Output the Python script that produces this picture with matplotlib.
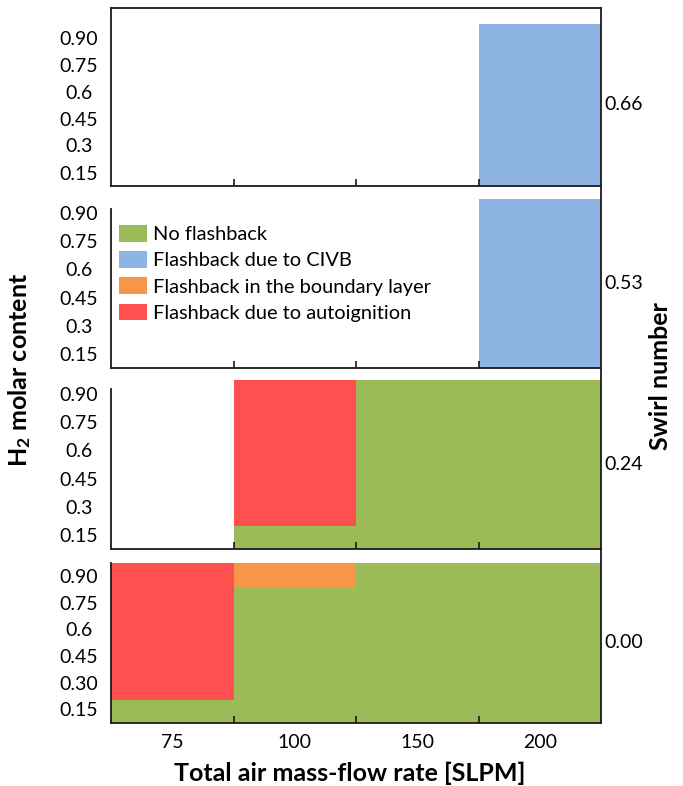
import matplotlib
matplotlib.use("Agg")
import matplotlib.pyplot as plt
from matplotlib.lines import Line2D
from matplotlib.patches import Patch

plt.rcParams['font.family'] = ['Lato', 'DejaVu Sans']
plt.rcParams['mathtext.fontset'] = 'custom'
plt.rcParams['mathtext.rm'] = 'Lato'
plt.rcParams['mathtext.bf'] = 'Lato:bold'

# categorias del eje x (caudal de aire, SLPM)
flujos = ["75", "100", "150", "200"]
# etiquetas del eje y (contenido molar de H2)
h2_ticks = [0.15, 0.30, 0.45, 0.60, 0.75, 0.90]
h2_labels = ["0.15", "0.3", "0.45", "0.6", "0.75", "0.90"]
h2_labels_abajo = ["0.15", "0.30", "0.45", "0.6", "0.75", "0.90"]
h2_base = 0.075   # borde inferior de las barras
swirl = ["0.66", "0.53", "0.24", "0.00"]

# alturas apiladas (desde h2_base) por numero de swirl
sin_fb = {"0.66": [0, 0, 0, 0], "0.53": [0, 0, 0, 0],
          "0.24": [0, 0.125, 0.9, 0.9], "0.00": [0.125, 0.76, 0.9, 0.9]}
civb = {"0.66": [0, 0, 0, 0.9], "0.53": [0, 0, 0, 0.9],
        "0.24": [0, 0, 0, 0], "0.00": [0, 0, 0, 0]}
capa_limite = {"0.66": [0, 0, 0, 0], "0.53": [0, 0, 0, 0],
               "0.24": [0, 0, 0, 0], "0.00": [0, 0.14, 0, 0]}
autoign = {"0.66": [0, 0, 0, 0], "0.53": [0, 0, 0, 0],
           "0.24": [0, 0.775, 0, 0], "0.00": [0.775, 0, 0, 0]}

colores = {"No flashback": "#9BBB59",
           "Flashback due to CIVB": "#8EB4E3",
           "Flashback in the boundary layer": "#F79646",
           "Flashback due to autoignition": "#FF5050"}

W, H = 683, 786
fig = plt.figure(figsize=(W / 100, H / 100), dpi=100)

def fy(py):
    return 1 - py / H

x0, x1 = 111, 601
# (borde superior del eje en px, borde inferior px, tope de barras px, tope espina izq px)
paneles = [(8, 186, 24, 8), (199, 368, 199, 209), (380, 549, 380, 389), (563, 722.5, 563, 563)]

TS = 14  # tamaño de los numeros

ejes = []
for i, s in enumerate(swirl):
    top, bot, bartop, sptop = paneles[i]
    ax = fig.add_axes([x0 / W, fy(bot), (x1 - x0) / W, (bot - top) / H])
    escala = (bot - bartop) / (0.975 - h2_base)
    ymax = h2_base + (bot - top) / escala
    ax.set_ylim(h2_base, ymax)
    ax.set_xlim(-0.5, 3.5)

    xs = range(len(flujos))
    base = [h2_base] * 4
    for nombre, serie in [("No flashback", sin_fb), ("Flashback due to CIVB", civb),
                          ("Flashback in the boundary layer", capa_limite),
                          ("Flashback due to autoignition", autoign)]:
        vals = serie[s]
        ax.bar(xs, vals, width=1.0, bottom=base, color=colores[nombre], linewidth=0)
        base = [b + v for b, v in zip(base, vals)]

    for lado in ["left", "bottom", "top", "right"]:
        ax.spines[lado].set_color("#1a1a1a")
        ax.spines[lado].set_linewidth(1.3)
    ax.spines["right"].set_visible(False)
    if i > 0:
        ax.spines["top"].set_visible(False)
        ax.spines["left"].set_bounds(h2_base, h2_base + (bot - sptop) / escala)

    ax.set_yticks(h2_ticks)
    ax.set_yticklabels(h2_labels_abajo if i == 3 else h2_labels)
    ax.tick_params(axis="y", length=0, pad=23, labelsize=TS)
    for t in ax.get_yticklabels():
        t.set_ha("center")

    ax.set_xticks([0.5, 1.5, 2.5])
    ax.set_xticklabels([])
    ax.tick_params(axis="x", which="major", direction="in", length=5, width=1.2, color="#1a1a1a")
    ax.set_xticks(range(4), minor=True)
    if i == 3:
        ax.set_xticklabels(flujos, minor=True)
    ax.tick_params(axis="x", which="minor", length=0, pad=8, labelsize=TS)

    ax.text(1.006, (h2_base + 0.975) / 2, s, transform=ax.get_yaxis_transform(),
            ha="left", va="center", fontsize=TS)
    ejes.append(ax)

# borde derecho continuo
fig.add_artist(Line2D([x1 / W, x1 / W], [fy(7.5), fy(723)], color="#1a1a1a", lw=1.3))

handles = [Patch(facecolor=c, edgecolor="none") for c in colores.values()]
fig.legend(handles, list(colores.keys()), loc="upper left",
           bbox_to_anchor=(119 / W, fy(225)), bbox_transform=fig.transFigure,
           frameon=False, fontsize=14.4, borderaxespad=0, borderpad=0,
           handlelength=1.4, handleheight=0.9, handletextpad=0.3, labelspacing=0.4)

fig.text(20 / W, fy(370), r"$\mathbf{H_2}$ molar content", rotation=90,
         ha="center", va="center", fontsize=18, fontweight="bold")
fig.text(661 / W, fy(376), "Swirl number", rotation=90,
         ha="center", va="center", fontsize=18, fontweight="bold")
fig.text(350 / W, fy(773), "Total air mass-flow rate [SLPM]",
         ha="center", va="center", fontsize=18, fontweight="bold")

fig.savefig("out.png", dpi=100)
